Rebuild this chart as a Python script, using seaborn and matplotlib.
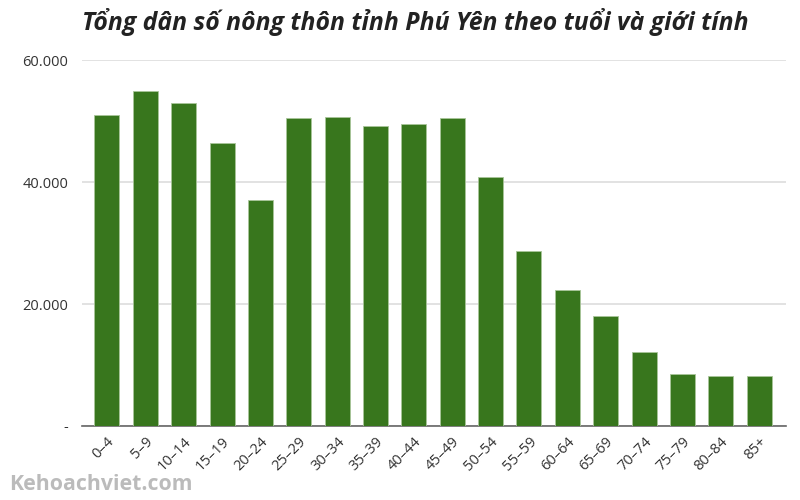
import numpy as np
import pandas as pd
import seaborn as sns
import matplotlib
matplotlib.use("Agg")
import matplotlib.pyplot as plt
from matplotlib.ticker import FuncFormatter

# Data
age_groups = ["0–4", "5–9", "10–14", "15–19", "20–24", "25–29", "30–34", "35–39", "40–44",
              "45–49", "50–54", "55–59", "60–64", "65–69", "70–74", "75–79", "80–84", "85+"]
population = [51000, 55000, 53000, 46400, 37000, 50500, 50650, 49200, 49500,
              50500, 40800, 28700, 22300, 18000, 12100, 8500, 8200, 8200]
y_ticks = [0, 20000, 40000, 60000]

df = pd.DataFrame({"Age": age_groups, "Population": population})

sns.set_theme(style="white")
plt.rcParams['font.family'] = ['Open Sans', 'DejaVu Sans']

fig = plt.figure(figsize=(8, 5), dpi=100)
ax = fig.add_axes([0.1025, 0.148, 0.88, 0.732])

sns.barplot(df, x="Age", y="Population", color="#38761d", saturation=1,
            width=0.65, edgecolor="#a9c59a", linewidth=0.6, ax=ax, zorder=3)

ax.set_xlim(-0.65, 17.7)
ax.set_ylim(0, 60000)
ax.set_yticks(y_ticks)
ax.yaxis.set_major_formatter(FuncFormatter(lambda v, p: "-" if v == 0 else f"{int(v):,}".replace(",", ".")))
ax.grid(axis='y', color="#dddddd", linewidth=1.2, zorder=0)
sns.despine(left=True, bottom=False)
ax.spines['bottom'].set_color("#666666")
ax.spines['bottom'].set_linewidth(1.2)
ax.tick_params(axis='y', length=0, pad=10, labelsize=10.5, labelcolor="#333333")
ax.tick_params(axis='x', length=0, pad=6, labelsize=10.5, labelcolor="#333333")
plt.setp(ax.get_xticklabels(), rotation=45, ha="right", rotation_mode="anchor")
ax.set_xlabel("")
ax.set_ylabel("")

fig.text(0.519, 0.955, "Tổng dân số nông thôn tỉnh Phú Yên theo tuổi và giới tính",
         ha="center", va="center", fontsize=17.8, fontweight="bold", fontstyle="italic", color="#222222")
fig.text(0.012, 0.03, "Kehoachviet.com", ha="left", va="center", fontsize=15.3,
         fontweight="bold", color="#bbbbbb")

fig.savefig("out.png", dpi=100)
